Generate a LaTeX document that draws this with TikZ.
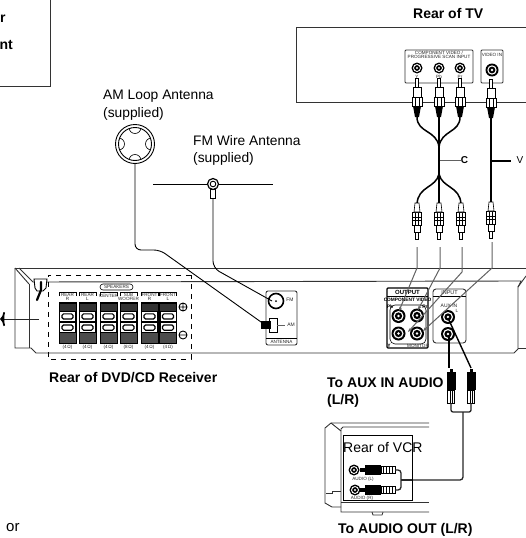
\documentclass[tikz,border=0pt]{standalone}
\usepackage{fontspec}
\setmainfont{Liberation Sans}
\usetikzlibrary{arrows.meta}
\definecolor{lead}{gray}{0.38}
\newcommand{\fsz}[1]{\fontsize{#1}{#1}\selectfont}
\tikzset{
  x=1pt,y=-1pt,
  line/.style={black,line width=0.9pt},
  case/.style={black!80,line width=0.9pt},
  cable/.style={black,line width=1.5pt},
  thin line/.style={black,line width=0.6pt},
  leader/.style={lead,line width=1pt},
  pointer/.style={lead,line width=1pt,-{Stealth[length=4pt,width=3pt]}},
  caption/.style={inner sep=0,anchor=base west,font=\fsz{14}\bfseries},
  label/.style={inner sep=0,anchor=base west,font=\fsz{13.8}},
  tiny/.style={inner sep=0,font=\fsz{4.6},text=black!85},
  tinyb/.style={inner sep=0,font=\fsz{5}\bfseries},
  jack/.pic={
    \fill[black] (0,0) circle (#1);
    \fill[white] (0,0) circle (#1*0.72);
    \fill[black] (0,0) circle (#1*0.52);
    \fill[white] (0,0) circle (#1*0.2);
  },
  plugA/.pic={
    \draw[thin line,fill=white] (-1.5,0) -- (-1.5,9) -- (1.5,9) -- (1.5,0) -- cycle;
    \draw[thin line,fill=white] (-4,9) rectangle (4,19);
    \draw[thin line,fill=white] (-5,19) rectangle (5,28);
    \draw[thin line] (-2,19) -- (-2,28) (2,19) -- (2,28);
    \fill[black] (-4,28) -- (4,28) -- (2,39) -- (-2,39) -- cycle;
  },
  plugB/.pic={
    \draw[thin line,fill=white] (-1.5,0) -- (-1.5,7) -- (1.5,7) -- (1.5,0) -- cycle;
    \draw[thin line,fill=white] (-3,7) rectangle (3,14);
    \draw[thin line,fill=white] (-4.5,14) rectangle (4.5,27);
    \draw[thin line] (-4.5,19) -- (4.5,19) (-4.5,22) -- (4.5,22) (-1.5,14) -- (-1.5,27) (1.5,14) -- (1.5,27);
    \draw[thin line,fill=white] (-3,27) -- (3,27) -- (2,36) -- (-2,36) -- cycle;
  },
  audioV/.pic={
    \fill[black] (-4.5,0) rectangle (4.5,18);
    \fill[black] (-1.5,-3) rectangle (1.5,0);
    \draw[thin line,fill=white] (-3.5,18) rectangle (3.5,31);
    \draw[thin line] (-1.2,18) -- (-1.2,31) (1.2,18) -- (1.2,31);
  },
  audioH/.pic={
    \fill[black] (0,-5) rectangle (16,5);
    \fill[black] (-5,-2) rectangle (0,2);
    \draw[thin line,fill=white] (16,-3.5) rectangle (30,3.5);
    \draw[thin line] (18,-3.5) -- (18,3.5) (21,-3.5) -- (21,3.5) (24,-3.5) -- (24,3.5) (27,-3.5) -- (27,3.5);
  },
  terminal/.pic={
    \fill[black!80] (0,0) rectangle (17,8.5);
    \fill[black] (0,0) rectangle (17,2);
    \fill[black] (0,8.5) rectangle (17,31);
    \fill[white] (1,10) rectangle (16,18.8);
    \fill[white] (1,21.2) rectangle (16,30);
    \draw[black,line width=1.1pt,rounded corners=1.5pt] (3,11.8) rectangle (14,17);
    \draw[black,line width=1.1pt,rounded corners=1.5pt] (3,23) rectangle (14,28.2);
    \fill[black!70] (0,31) rectangle (17,41);
    \draw[line] (0,0) rectangle (17,41);
  }
}
\begin{document}
\begin{tikzpicture}
\useasboundingbox (0,0) rectangle (526,538);
% top-left box
\draw[case] (50,0) -- (50,86) -- (0,86);
\node[caption] (tl1) at (0,22) {r};
\node[caption,anchor=base east] (tl2) at (13,49) {nt};
\node[label,font=\fsz{15}] (orword) at (6,531) {or};

% TV
\node[caption] (tvcap) at (413,18.5) {Rear of TV};
\draw[case] (526,27) -- (296,27) -- (296,102) -- (526,102);
\draw[case,fill=white,rounded corners=1pt] (405,50) rectangle (473,83);
\draw[case,fill=white,rounded corners=1pt] (481,50) rectangle (503,83);
\node[tiny] (cv1) at (439,53) {COMPONENT VIDEO /};
\node[tiny] (cv2) at (439,57) {PROGRESSIVE SCAN INPUT};
\node[tiny] (vin) at (492,55) {VIDEO IN};
\pic at (417,68) {jack=5.5};
\pic at (439,68) {jack=5.5};
\pic at (460,68) {jack=5.5};
\pic at (492,70) {jack=6.5};
\node[tiny] at (417,77) {Y};
\node[tiny] at (439,77) {Pb};
\node[tiny] at (460,77) {Pr};

% component cables
\draw[cable] (417,117) .. controls (417,133) and (437,130) .. (439,147);
\draw[cable] (460,117) .. controls (460,133) and (441,130) .. (439,147);
\draw[cable] (439,117) -- (439,205);
\draw[black,line width=2.6pt] (439,142) -- (439,150) (439,168) -- (439,177);
\draw[cable] (439,174) .. controls (436,188) and (418,186) .. (417,204);
\draw[cable] (439,174) .. controls (442,188) and (460,186) .. (461,204);
\draw[cable] (491,117) -- (491,204);
\pic at (417,78) {plugA};
\pic at (439,78) {plugA};
\pic at (460,78) {plugA};
\pic at (491,79) {plugA};
\pic[rotate=180] at (417,239) {plugB};
\pic[rotate=180] at (439,239) {plugB};
\pic[rotate=180] at (461,239) {plugB};
\pic[rotate=180] at (491,238) {plugB};
\coordinate (cs) at (440,160);
\coordinate (vs) at (492,161);
\node[inner sep=0,font=\fsz{10}\bfseries] (clab) at (464.5,160) {C};
\node[inner sep=0,font=\fsz{10}] (vlab) at (520,160) {V};
\draw[leader] (cs) -- (clab.west);
\draw[cable,line width=1.2pt] (vs) -- (511,161);

% receiver case
\draw[case] (15,268) -- (526,268);
\draw[case] (15,268) -- (15,348) -- (31,348) -- (36,353) -- (514,353) -- (518,349) -- (518,287) -- (526,276);
\draw[case] (29,284) -- (29,348);
\draw[case] (15,268) -- (29,284);
\draw[case] (19,268) -- (33,282) -- (521,281) -- (518,287);
\draw[case] (518,348) -- (526,348);
% power clip
\draw[line,fill=white] (34,279) -- (47,279) -- (46,288) -- (43,291) -- (37,291) -- (35,288) -- cycle;
\draw[black,line width=2.2pt,line cap=round] (41,282) -- (41,290) -- (37,300);
% arrow out
\draw[black!85,line width=1pt] (39,319) -- (1,319);
\fill[black] (0,319) .. controls (2,317.5) and (3,315) .. (3.5,312) -- (5,312.5) .. controls (4,316) and (4,322) .. (5,325.5) -- (3.5,326) .. controls (3,323) and (2,320.5) .. (0,319) -- cycle;

% speakers
\draw[black,line width=1pt,dash pattern=on 5pt off 5pt] (191,275) -- (48,275) -- (48,359) -- (191,359) -- (191,275);
\draw[thin line,rounded corners=3pt] (100,284) rectangle (133,290);
\node[tiny] (spk) at (116.5,287) {SPEAKERS};
\foreach \x/\a/\b/\o in {59/REAR/R/4,79/REAR/L/4,120/SUB/WOOFER/8,141/FRONT/R/4,159.5/FRONT/L/4}{
  \pic at (\x,302) {terminal};
  \draw[thin line] (\x,296) -- (\x,292) -- ({\x+17},292) -- ({\x+17},296);
  \node[tiny] at ({\x+8.5},295) {\a};
  \node[tiny] at ({\x+8.5},299) {\b};
  \node[tiny] at ({\x+8.5},347) {(\o\,Ω)};
}
\pic at (100,302) {terminal};
\draw[thin line] (100,296) -- (100,292) -- (117,292) -- (117,296);
\node[tiny] (ctr) at (108.5,296) {CENTER};
\node[tiny] (ctro) at (108.5,347) {(4\,Ω)};
\draw[line] (183,307) circle (4) (179,307) -- (187,307) (183,303) -- (183,311);
\draw[line] (183,335) circle (4) (179,335) -- (187,335);
\node[caption] (rcvcap) at (49,382.5) {Rear of DVD/CD Receiver};

% antenna panel
\draw[case,fill=white,rounded corners=2pt] (266,291) rectangle (297,345);
\draw[thin line] (266,338) -- (297,338);
\node[tiny] (ant) at (281.5,341.5) {ANTENNA};
\node[tiny,font=\fsz{5}] (fmt) at (290,300) {FM};
\node[tiny,font=\fsz{5}] (amt) at (291,325) {AM};
\draw[black,line width=1.6pt,fill=white] (276,301) circle (7.5);
\fill[black] (276,301) circle (1);
\draw[thin line,fill=white] (269,318) rectangle (277,332);
\draw[leader] (277,325) -- (285,325);
\fill[black] (261,321) rectangle (271,329);

% AM loop antenna
\node[label] (amcap) at (103,99.5) {AM Loop Antenna};
\node[label] (amsup) at (103,117) {(supplied)};
\coordinate (amc) at (135,144);
\draw[line] (amc) circle (19.5) (amc) circle (16.5);
\begin{scope}
  \clip (amc) circle (16.5);
  \draw[thin line] (135,127.5) circle (6) (135,160.5) circle (6) (118.5,144) circle (6) (151.5,144) circle (6);
\end{scope}
\draw[line,rounded corners=6pt] (135,163.5) -- (135,250) -- (160,250) -- (261,322);

% FM wire antenna
\node[label] (fmcap) at (193,145) {FM Wire Antenna};
\node[label] (fmsup) at (193,162) {(supplied)};
\draw[line] (153,184) -- (273,184);
\draw[line,rounded corners=7pt] (213,197) -- (213,268) -- (272,301);
\draw[line,fill=white] (210.5,189) rectangle (215.5,198);
\draw[black,line width=1.2pt,fill=white] (213,184) circle (5.5);
\draw[line] (213,184) circle (2.8);

% output panel
\draw[black,line width=1.1pt,fill=white,rounded corners=1pt] (387,288) rectangle (428,348);
\draw[black,line width=1pt] (387,296) -- (428,296);
\draw[thin line,rounded corners=5pt] (390,305) rectangle (426,344);
\node[tinyb,font=\fsz{6}\bfseries] (outt) at (407.5,292) {OUTPUT};
\node[tinyb,font=\fsz{4.8}\bfseries] (compt) at (407.5,300) {COMPONENT VIDEO};
\node[tinyb] at (390,307) {Pb};
\node[tinyb] at (425,307) {Pr};
\node[tinyb] at (389,345.5) {Y};
\node[tiny] (mont) at (418,345.5) {MONITOR};
\pic at (398.5,316) {jack=7};
\pic at (417,315.5) {jack=7};
\pic at (398.5,333.5) {jack=7};
\pic at (417,333.5) {jack=7};

% input panel
\draw[case,fill=white,rounded corners=3pt] (433,289) rectangle (466,343);
\draw[thin line] (433,296) -- (466,296);
\node[tiny,font=\fsz{5.5}] (int) at (449.5,292.5) {INPUT};
\node[tiny,font=\fsz{5}] (auxt) at (449,306) {AUX IN};
\node[tiny] at (457,311) {L};
\pic at (448,317) {jack=7};
\pic at (448,334) {jack=7};

% leaders into jacks
\draw[pointer] (417,247) -- (417,268) -- (399,311);
\draw[pointer] (440,247) -- (440,268) -- (418,310);
\draw[pointer] (462,247) -- (462,272) -- (408,332);
\draw[pointer] (492,242) -- (492,268) -- (423,331);

% audio cables
\draw[black,line width=1.4pt] (448,318) -- (471,368);
\draw[black,line width=1.4pt] (449,335) -- (449,368);
\pic at (451,372) {audioV};
\pic at (471,372) {audioV};
\draw[black!85,line width=1.3pt,rounded corners=2pt] (451,403) -- (451,412) -- (471,412) -- (471,403);
\draw[black!85,line width=1.3pt,rounded corners=3pt] (463,412) -- (463,480) -- (401,480);

\node[caption] (auxcap) at (327,387) {To AUX IN AUDIO};
\node[caption] (lrcap) at (327,404) {(L/R)};

% VCR
\draw[case] (429,423) -- (331,423) -- (325,428) -- (325,503) -- (332,507) -- (341,507);
\draw[case] (429,427) -- (343,427) -- (341,429) -- (341,512) -- (429,512);
\draw[case] (331,423) -- (341,431);
\draw[case] (341,502) -- (429,502);
\draw[case] (326,493) -- (332,493) -- (332,491) -- (341,491);
\draw[black!80,line width=0.8pt] (372,512) -- (373,515) -- (382,515) -- (383,512);
\draw[line,fill=white] (343,435) rectangle (412,500);
\pic at (354,470) {jack=5.5};
\pic at (355,490) {jack=5.5};
\pic at (365,470) {audioH};
\pic at (365,490) {audioH};
\draw[black!85,line width=1.3pt,rounded corners=3pt] (395,470) -- (401,470) -- (401,490) -- (395,490);
\draw[black!85,line width=1.3pt] (401,480) -- (412,480);
\node[tiny] (al) at (363,479.5) {AUDIO (L)};
\node[tiny] (ar) at (362,498) {AUDIO (R)};
\node[caption,font=\fsz{14}] (vcrcap) at (343,452) {Rear of VCR};
\node[caption] (outcap) at (338,533) {To AUDIO OUT (L/R)};
\end{tikzpicture}
\end{document}
